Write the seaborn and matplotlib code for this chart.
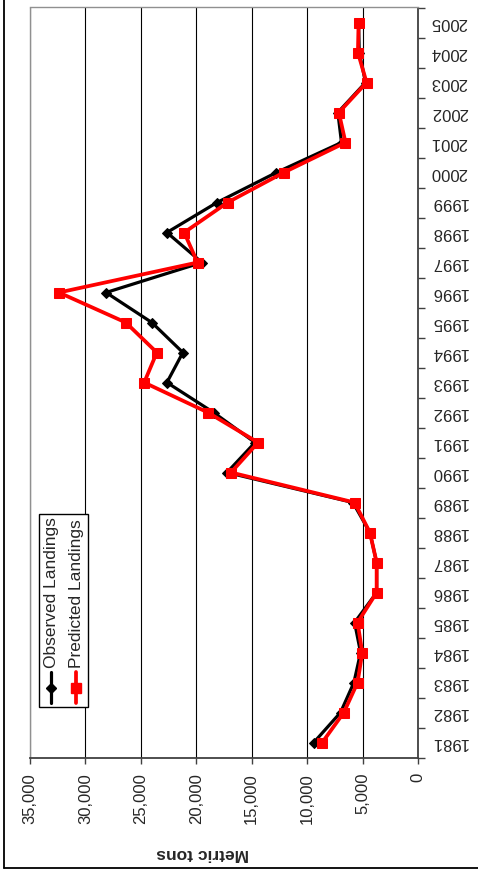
import numpy as np
import pandas as pd
import matplotlib
matplotlib.use("Agg")
import matplotlib.pyplot as plt
import seaborn as sns
from matplotlib.lines import Line2D
from matplotlib.patches import Rectangle
from matplotlib.ticker import FuncFormatter

# Data (metric tons)
years = list(range(1981, 2006))
observed = [9400, 6990, 5780, 5180, 5720, 3730, 3730, 4340, 5870, 17230,
            14700, 18440, 22650, 21210, 24010, 28140, 19490, 22650, 18130, 12770,
            6900, 7230, 4730, 5300, 5360]
predicted = [8640, 6690, 5450, 5030, 5450, 3730, 3730, 4340, 5720, 16870,
             14430, 18950, 24700, 23560, 26360, 32390, 19890, 21090, 17180, 12110,
             6540, 7140, 4640, 5420, 5360]
value_ticks = [0, 5000, 10000, 15000, 20000, 25000, 30000, 35000]

df = pd.DataFrame({'Year': years, 'Observed': observed, 'Predicted': predicted})

sns.set_theme(style="white")
plt.rcParams['font.family'] = ['Liberation Sans', 'DejaVu Sans']
plt.rcParams['font.size'] = 12

W, H = 478, 871
fig = plt.figure(figsize=(W / 100, H / 100), dpi=100)

# helper: image pixel -> figure fraction
def px(x, y):
    return x / W, 1 - y / H

# plot area: x 30..418, y 7.5..757.5 (pixels)
ax = fig.add_axes([30 / W, 1 - 757.5 / H, 388 / W, 750 / H])

sns.lineplot(data=df, x='Observed', y='Year', orient='y', ax=ax, color='black',
             linewidth=2.3, marker='D', markersize=5, markeredgecolor='black', zorder=3)
sns.lineplot(data=df, x='Predicted', y='Year', orient='y', ax=ax, color='#ff0000',
             linewidth=2.7, marker='s', markersize=7, markeredgecolor='#ff0000', zorder=4)

# value axis (horizontal, reversed)
ax.set_xlim(35000, 0)
ax.set_xticks(value_ticks)
ax.xaxis.set_major_formatter(FuncFormatter(lambda v, p: f'{v:,.0f}'))
ax.tick_params(axis='x', bottom=True, direction='out', length=4, width=1,
               color='#404040', labelrotation=90, pad=7, labelsize=12)
ax.grid(axis='x', color='black', linewidth=0.8)
ax.grid(axis='y', visible=False)
ax.set_xlabel('')
ax.set_ylabel('')

# category axis on the right, labels between half-year ticks
ax.set_ylim(1980.5, 2005.5)
ax.yaxis.tick_right()
ax.set_yticks(years)
ax.set_yticklabels([str(y) for y in years])
ax.set_yticks(np.arange(1980.5, 2006, 1.0), minor=True)
ax.tick_params(axis='y', which='major', right=True, length=0, pad=9, labelsize=12,
               labelrotation=180)
ax.tick_params(axis='y', which='minor', right=True, direction='out', length=5,
               width=1, color='#404040')
for lab in ax.get_yticklabels():
    lab.set_va('center')

for side in ['left', 'top']:
    ax.spines[side].set_color('#909090')
    ax.spines[side].set_linewidth(1.0)
for side in ['right', 'bottom']:
    ax.spines[side].set_color('#404040')
    ax.spines[side].set_linewidth(1.3)

if ax.get_legend() is not None:
    ax.get_legend().remove()

# axis title (upside down as in the reference)
fig.text(*px(202.5, 853), 'Metric tons', rotation=180, ha='center', va='center',
         fontsize=12.5, fontweight='bold')

# legend drawn by hand (rotated)
x0, y0 = px(39.3, 707)
x1, y1 = px(88.3, 514)
fig.add_artist(Rectangle((x0, y0), x1 - x0, y1 - y0, transform=fig.transFigure,
                         facecolor='white', edgecolor='black', linewidth=1.0))
lx, ly0 = px(51, 703)
_, ly1 = px(51, 672)
_, lym = px(51, 688)
fig.add_artist(Line2D([lx, lx], [ly0, ly1], transform=fig.transFigure,
                      color='black', linewidth=2.3))
fig.add_artist(Line2D([lx], [lym], transform=fig.transFigure, color='black',
                      marker='D', markersize=5))
rx, _ = px(75.5, 0)
fig.add_artist(Line2D([rx, rx], [ly0, ly1], transform=fig.transFigure,
                      color='#ff0000', linewidth=2.7))
fig.add_artist(Line2D([rx], [lym], transform=fig.transFigure, color='#ff0000',
                      marker='s', markersize=7))
fig.text(*px(52, 668), 'Observed Landings', rotation=90, ha='center', va='bottom',
         fontsize=12.5)
fig.text(*px(76.5, 668), 'Predicted Landings', rotation=90, ha='center', va='bottom',
         fontsize=12.5)

# outer chart frame (left and bottom edges visible)
fig.add_artist(Line2D([4 / W, 4 / W], [1 - 867.5 / H, 1.0], transform=fig.transFigure,
                      color='black', linewidth=1.3))
fig.add_artist(Line2D([4 / W, 1.0], [1 - 867.5 / H, 1 - 867.5 / H],
                      transform=fig.transFigure, color='black', linewidth=1.3))

fig.savefig('out.png', dpi=100)
